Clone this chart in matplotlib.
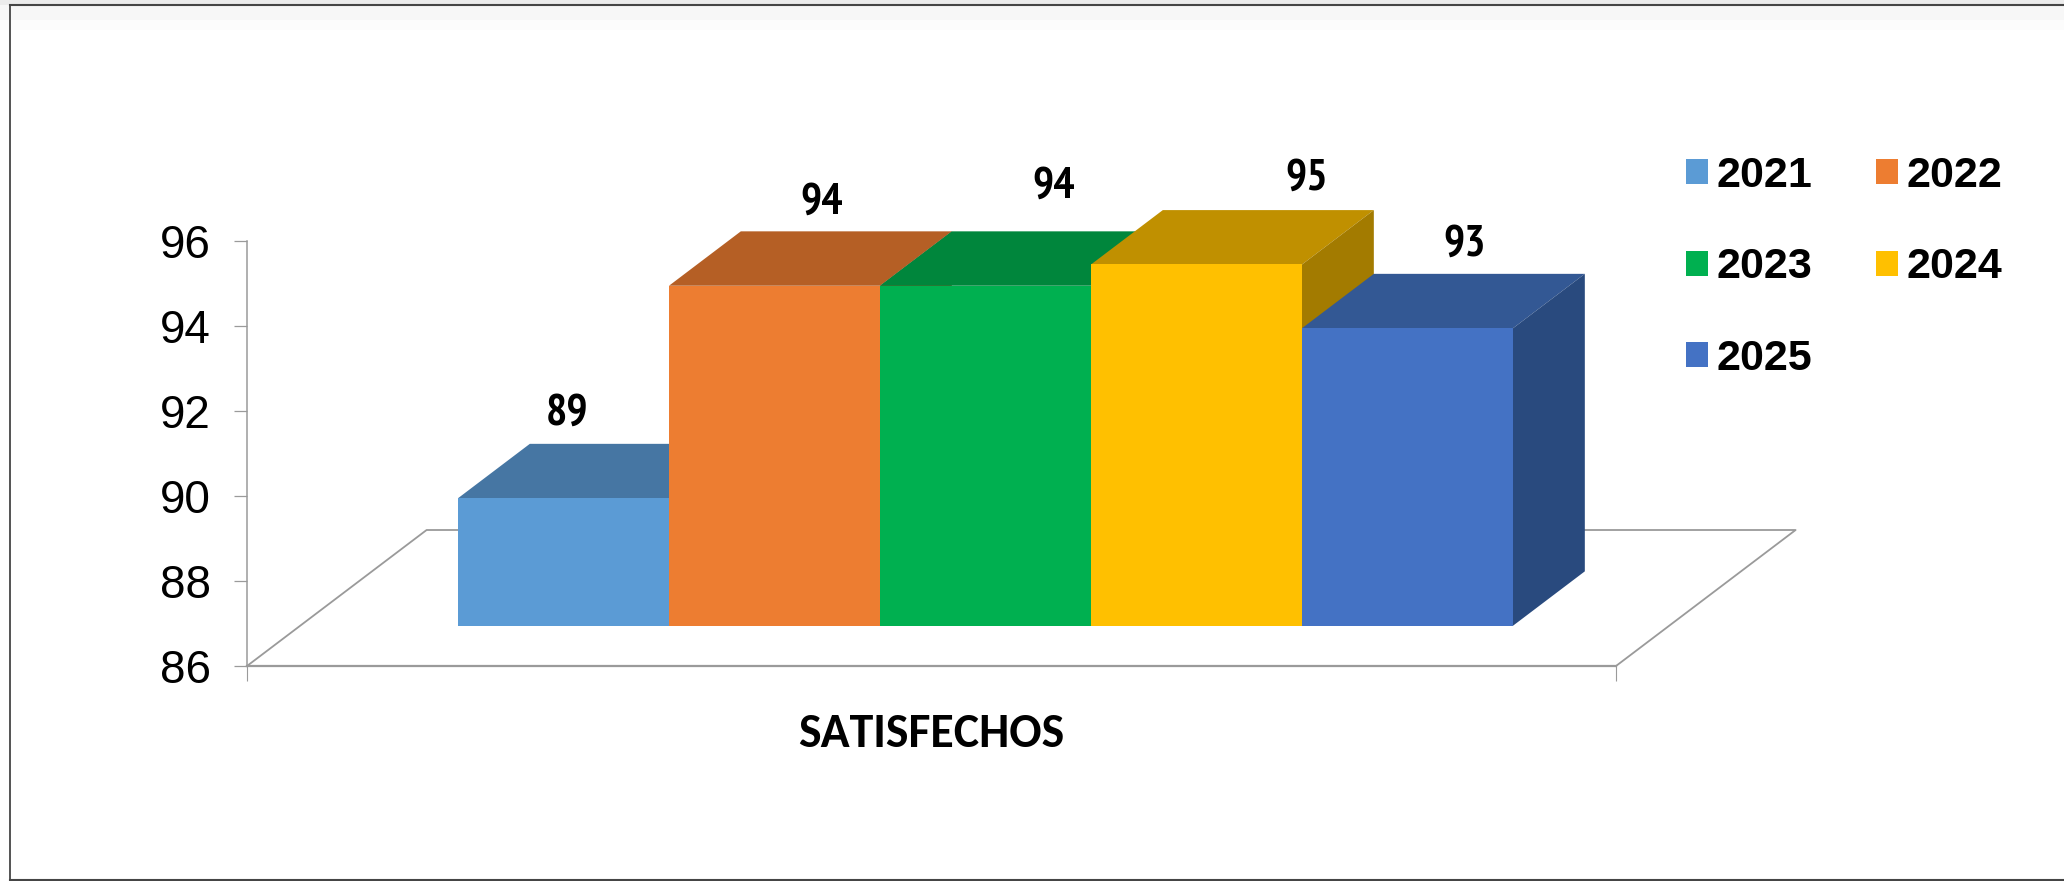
import matplotlib
matplotlib.use("Agg")
import matplotlib.pyplot as plt
from matplotlib.lines import Line2D
from matplotlib.patches import Rectangle, Patch
from matplotlib import font_manager as fm

years = ["2021", "2022", "2023", "2024", "2025"]
values = [89, 94, 94, 94.5, 93]
value_labels = ["89", "94", "94", "95", "93"]
category = "SATISFECHOS"
yticks = [86, 88, 90, 92, 94, 96]
front_colors = ["#5B9BD5", "#ED7D31", "#00B050", "#FFC000", "#4472C4"]
top_colors = ["#4676A3", "#B55F25", "#00863C", "#C09000", "#335894"]
side_colors = ["#3A6A96", "#9A5020", "#006E32", "#A37B00", "#294A7E"]
label_offsets = [(-68, 30.5), (-25, 28.5), (-3.5, 45), (38, 31.5), (-15, 29.5)]

W, H = 2064, 881
names = {f.name for f in fm.fontManager.ttflist}
def pick(*cands):
    for c in cands:
        if c in names:
            return c
    return "Liberation Sans"
narrow = pick("PT Sans Narrow", "Pragati Narrow", "Fjalla One")
calibri = pick("Carlito", "Lato")

fig = plt.figure(figsize=(W / 100, H / 100), dpi=100, facecolor="white")

def fx(p): return p / W
def fy(p): return 1 - p / H

# page band and frame (the page is cut on its right side)
fig.add_artist(Rectangle((0, fy(5)), 1, 5 / H, transform=fig.transFigure, fc="#ECECEC", ec="none"))
fig.add_artist(Rectangle((0, fy(20)), 1, 15 / H, transform=fig.transFigure, fc="#F7F7F7", ec="none"))
fig.add_artist(Rectangle((0, fy(30)), 1, 10 / H, transform=fig.transFigure, fc="#FCFCFC", ec="none"))
FRAME = "#454545"
fig.add_artist(Line2D([fx(10), 1], [fy(5), fy(5)], transform=fig.transFigure, color=FRAME, lw=1.5))
fig.add_artist(Line2D([fx(10), 1], [fy(879.5), fy(879.5)], transform=fig.transFigure, color=FRAME, lw=1.5))
fig.add_artist(Line2D([fx(10), fx(10)], [fy(5), fy(879.5)], transform=fig.transFigure, color=FRAME, lw=1.3))

AL, AR, AT, AB = 247, 1616, 241, 666
ax = fig.add_axes([fx(AL), fy(AB), (AR - AL) / W, (AB - AT) / H])
ax.patch.set_visible(False)
BAR_W = 211.0
lead = (AR - AL) / BAR_W
ax.set_xlim(-0.748 - 0.5, -0.748 - 0.5 + lead)
ax.set_ylim(86, 96)
xl = ax.get_xlim()

FLOOR_DX = 179.6 / BAR_W
FLOOR_DY = 136 / 42.5
def proj(x, v, d):
    return x + d * FLOOR_DX, v + d * FLOOR_DY

D0, D1 = 0.296, 0.696
GRAY = "#9A9A9A"

floor = [proj(xl[0], 86, 0), proj(xl[0], 86, 1), proj(xl[1], 86, 1), proj(xl[1], 86, 0)]
ax.plot(*zip(*floor), color=GRAY, lw=1.3, clip_on=False, zorder=1)

def poly(points, color, z):
    xs, ys = zip(*points)
    ax.fill(xs, ys, color=color, lw=0, zorder=z, clip_on=False)

for i, (v, lab, off, cf, ct, cs) in enumerate(zip(values, value_labels, label_offsets, front_colors, top_colors, side_colors)):
    l, r = i - 0.5, i + 0.5
    z = 2 + i
    poly([proj(l, v, D0), proj(r, v, D0), proj(r, v, D1), proj(l, v, D1)], ct, z)
    poly([proj(r, 86, D0), proj(r, 86, D1), proj(r, v, D1), proj(r, v, D0)], cs, z)
    poly([proj(l, 86, D0), proj(r, 86, D0), proj(r, v, D0), proj(l, v, D0)], cf, z + 0.5)
    ax.annotate(lab, proj(i, v, D1), xytext=off, textcoords="offset pixels", ha="center", va="center",
                family=narrow, weight="bold", fontsize=32, color="black", zorder=20, annotation_clip=False)

for s in ["top", "right"]:
    ax.spines[s].set_visible(False)
ax.spines["bottom"].set_color(GRAY)
ax.spines["bottom"].set_linewidth(1.6)
ax.spines["left"].set_color(GRAY)
ax.spines["left"].set_linewidth(1.1)
ax.set_yticks(yticks)
ax.tick_params(axis="y", length=9.7, width=0.9, color=GRAY, pad=16.3)
for t in ax.get_yticklabels():
    t.set_family("Liberation Sans")
    t.set_fontsize(33)
ax.set_xticks([sum(xl) / 2])
ax.set_xticklabels([category], family=calibri, weight="bold", fontsize=34.5)
ax.tick_params(axis="x", which="major", length=0, pad=34)
ax.set_xticks(list(xl), minor=True)
ax.tick_params(axis="x", which="minor", length=11, width=0.8, color=GRAY)

order = [0, 2, 4, 1, 3]
handles = [Patch(fc=front_colors[i], ec="none") for i in order]
labels = [years[i] for i in order]
fs = 31
em = fs * 100 / 72
fig.legend(handles, labels, ncol=2, loc="upper left", bbox_to_anchor=(fx(1686), fy(156)), borderaxespad=0, borderpad=0,
           frameon=False, handlelength=22 / em, handleheight=22 / em, handletextpad=8.5 / em, columnspacing=63.5 / em,
           labelspacing=51.5 / em, prop={"family": "Liberation Sans", "weight": "bold", "size": fs})

fig.savefig("out.png", dpi=100)
